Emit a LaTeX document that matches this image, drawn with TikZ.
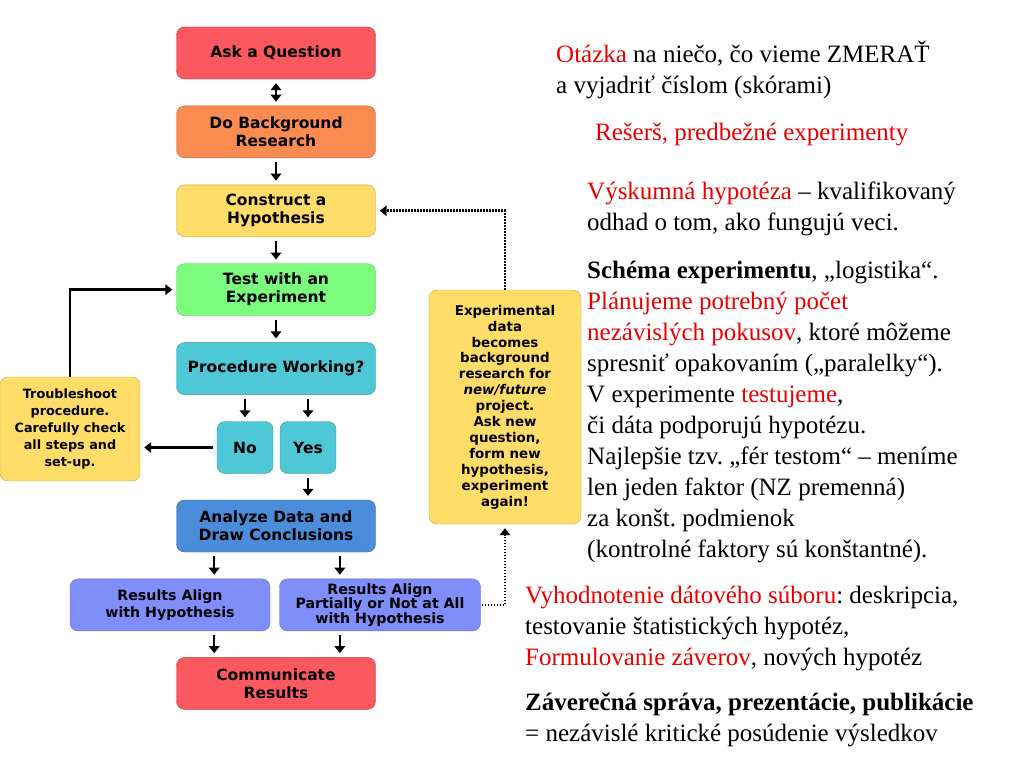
\documentclass[tikz,border=0pt]{standalone}
\usepackage{fontspec}
\setmainfont{Liberation Serif}
\newfontfamily\boxfont{DejaVu Sans}
\usetikzlibrary{positioning, calc, arrows.meta}
\definecolor{qred}{RGB}{252,88,96}
\definecolor{bgorange}{RGB}{250,140,82}
\definecolor{hypyellow}{RGB}{255,221,104}
\definecolor{expgreen}{RGB}{124,252,124}
\definecolor{proccyan}{RGB}{78,200,214}
\definecolor{anablue}{RGB}{74,140,218}
\definecolor{reslav}{RGB}{128,142,252}
\definecolor{txtred}{RGB}{235,0,0}
\newcommand{\hl}[1]{\textcolor{txtred}{#1}}
\frenchspacing
\begin{document}
\begin{tikzpicture}[x=1pt, y=-1pt,
      node distance = 26.5pt and 8pt,
      box/.style  = {draw=#1!75!black, fill=#1, rounded corners=8pt, align=center,
                     font=\boxfont\bfseries\fontsize{15.5}{18}\selectfont,
                     minimum width=199pt, minimum height=52pt, inner sep=2pt},
      arr/.style  = {-{Triangle[length=7pt, width=10.5pt]}, line width=2.6pt,
                     shorten >=4pt, shorten <=4pt},
      dots/.style = {arr, dash pattern=on 1.6pt off 1.4pt, line width=2.8pt},
      txt/.style  = {anchor=base west, inner sep=0pt, align=left,
                     font=\fontsize{25}{31}\selectfont}]
    \fill[white] (0,0) rectangle (1024,768);
    \useasboundingbox (0,0) rectangle (1024,768);
    % main column of the method
    \node[box=qred]                    (ask)  at (276,53) {Ask a Question};
    \node[box=bgorange, below=of ask]  (bg)   {Do Background\\Research};
    \node[box=hypyellow, below=of bg]  (hyp)  {Construct a\\Hypothesis};
    \node[box=expgreen, below=of hyp]  (test) {Test with an\\Experiment};
    \node[box=proccyan, below=of test] (proc) {Procedure Working?};
    \node[box=proccyan, minimum width=56pt, below=of proc, xshift=-31pt] (no)  {No};
    \node[box=proccyan, minimum width=56pt, below=of proc, xshift=32pt]  (yes) {Yes};
    \node[box=anablue, below=of proc, yshift=-78.5pt] (ana) {Analyze Data and\\Draw Conclusions};
    \node[box=reslav, minimum width=200pt, below=of ana, xshift=-106pt,
          font=\boxfont\bfseries\fontsize{14.2}{17}\selectfont] (resa) {Results Align\\with Hypothesis};
    \node[box=reslav, minimum width=201pt, below=of ana, xshift=104pt,
          font=\boxfont\bfseries\fontsize{14.2}{14.5}\selectfont] (resp)
          {Results Align\\Partially or Not at All\\with Hypothesis};
    \node[box=qred, below=of ana, yshift=-78.5pt] (comm) {Communicate\\Results};
    % side boxes
    \node[box=hypyellow, minimum width=140pt, minimum height=104pt,
          font=\boxfont\bfseries\fontsize{12.8}{17}\selectfont] (trbl) at (70,429)
          {Troubleshoot\\procedure.\\Carefully check\\all steps and\\set-up.};
    \node[box=hypyellow, minimum width=152pt, minimum height=234pt,
          font=\boxfont\bfseries\fontsize{13.4}{15.9}\selectfont] (newp) at (505,407)
          {Experimental\\data\\becomes\\background\\research for\\\textit{new/future}\\project.\\Ask new\\question,\\form new\\hypothesis,\\experiment\\again!};
    % connectors
    \draw[arr, {Triangle[length=7pt, width=10.5pt]}-{Triangle[length=7pt, width=10.5pt]}] (ask) -- (bg);
    \draw[arr] (bg) -- (hyp);
    \draw[arr] (hyp) -- (test);
    \draw[arr] (test) -- (proc);
    \draw[arr] (proc.south -| no) -- (no);
    \draw[arr] (proc.south -| yes) -- (yes);
    \draw[arr] (no.west) -- (no.west -| trbl.east);
    \draw[arr, shorten <=0pt] (trbl.north) |- (test.west);
    \draw[arr] (yes) -- (yes |- ana.north);
    \coordinate (al) at ($(ana.south west)!0.19!(ana.south east)$);
    \coordinate (ar) at ($(ana.south west)!0.82!(ana.south east)$);
    \draw[arr] (al) -- (al |- resa.north);
    \draw[arr] (ar) -- (ar |- resp.north);
    \draw[arr] (al |- resa.south) -- (al |- comm.north);
    \draw[arr] (ar |- resp.south) -- (ar |- comm.north);
    \draw[dots, shorten <=1pt] (resp.east) -| (newp.south);
    \draw[dots, shorten <=0pt] (newp.north) |- (hyp.east);
    % notes on the right (anchored at the baseline of their last line)
    \node[txt] (n1) at (556,93) {\hl{Otázka} na niečo, čo vieme ZMERAŤ\\a vyjadriť číslom (skórami)};
    \node[txt] (n2) at (595,140) {\hl{Rešerš, predbežné experimenty}};
    \node[txt] (n3) at (587,230) {\hl{Výskumná hypotéza} – kvalifikovaný\\odhad o tom, ako fungujú veci.};
    \node[txt] (n4) at (587,557) {\textbf{Schéma experimentu}, „logistika“.\\\hl{Plánujeme potrebný počet}\\\hl{nezávislých pokusov}, ktoré môžeme\\spresniť opakovaním („paralelky“).\\V experimente \hl{testujeme},\\či dáta podporujú hypotézu.\\Najlepšie tzv. „fér testom“ – meníme\\len jeden faktor (NZ premenná)\\za konšt. podmienok\\(kontrolné faktory sú konštantné).};
    \node[txt] (n5) at (525,665) {\hl{Vyhodnotenie dátového súboru}: deskripcia,\\testovanie štatistických hypotéz,\\\hl{Formulovanie záverov}, nových hypotéz};
    \node[txt] (n6) at (525,741) {\textbf{Záverečná správa, prezentácie, publikácie}\\= nezávislé kritické posúdenie výsledkov};
\end{tikzpicture}
\end{document}
